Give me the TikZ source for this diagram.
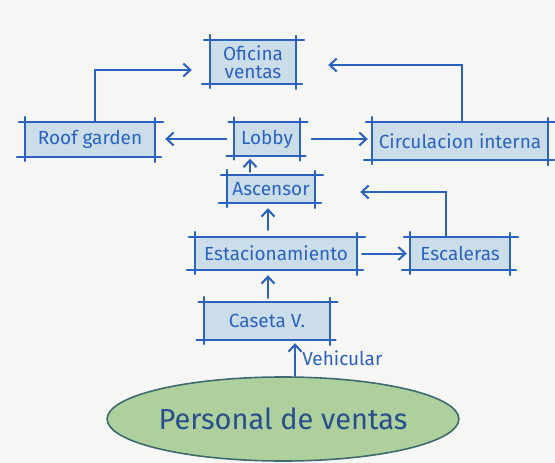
\documentclass[tikz,border=0pt]{standalone}
\usepackage{fontspec}
\setmainfont{Fira Sans}
\usetikzlibrary{arrows.meta,shapes.geometric}
\definecolor{paper}{HTML}{F6F6F5}
\definecolor{ink}{HTML}{2B62C0}
\definecolor{boxfill}{HTML}{CADDE8}
\definecolor{leaf}{HTML}{ADD09C}
\definecolor{leafline}{HTML}{3F6A6E}
\definecolor{leafink}{HTML}{2A4E8C}
\tikzset{
  inkline/.style={draw=ink, line width=2pt, line cap=round},
  arr/.style={inkline, -{Straight Barb[length=7pt,width=13pt,line width=2pt]}},
  sketchbox/.style={fill=boxfill, inner sep=0pt, text=ink, font=\fontsize{19}{21}\selectfont,
    append after command={
      ([xshift=-6pt]\tikzlastnode.north west) edge[inkline] ([xshift=8pt]\tikzlastnode.north east)
      ([xshift=-8pt]\tikzlastnode.south west) edge[inkline] ([xshift=6pt]\tikzlastnode.south east)
      ([yshift=5pt]\tikzlastnode.north west) edge[inkline] ([yshift=-4pt]\tikzlastnode.south west)
      ([yshift=4pt]\tikzlastnode.north east) edge[inkline] ([yshift=-5pt]\tikzlastnode.south east)
    }},
  goal/.style={ellipse, fill=leaf, draw=leafline, line width=1.6pt, text=leafink, inner sep=0pt,
    font=\fontsize{29}{31}\selectfont}
}
\begin{document}
\begin{tikzpicture}[x=1pt,y=-1pt]
  % sheet
  \fill[paper] (0,0) rectangle (555,463);
  \useasboundingbox (0,0) rectangle (555,463);

  % rooms
  \node[sketchbox, minimum width=86pt, minimum height=44pt, align=center] (ofi) at (253,62) {Oficina\\[-3pt]ventas};
  \node[sketchbox, minimum width=130pt, minimum height=35pt] (roof) at (90,139.5) {Roof garden};
  \node[sketchbox, minimum width=65pt, minimum height=33pt] (lobby) at (267,139) {Lobby};
  \node[sketchbox, minimum width=176pt, minimum height=38pt] (circ) at (460,141) {Circulacion interna};
  \node[sketchbox, minimum width=88pt, minimum height=28pt] (asc) at (271,189) {Ascensor};
  \node[sketchbox, minimum width=162pt, minimum height=33pt] (est) at (276,253.5) {Estacionamiento};
  \node[sketchbox, minimum width=100pt, minimum height=33pt] (esc) at (460,253.5) {Escaleras};
  \node[sketchbox, minimum width=125pt, minimum height=38pt] (cas) at (267,321) {Caseta V.};
  \node[goal, minimum width=330pt, minimum height=84pt] (pers) at (283,419) {Personal de ventas};

  % circulation
  \draw[arr] ([xshift=5pt]roof.north) |- ([xshift=-18pt,yshift=-8pt]ofi.west);
  \draw[arr] ([xshift=2pt]circ.north) |- ([xshift=32pt,yshift=-3pt]ofi.east);
  \draw[arr] ([xshift=-8pt]lobby.west) -- ([xshift=10pt]roof.east |- lobby.west);
  \draw[arr] ([xshift=12pt]lobby.east) -- ([xshift=-4pt]circ.west |- lobby.east);
  \draw[arr] ([xshift=-21pt,yshift=3pt]asc.north) -- ([xshift=-17pt,yshift=-3pt]lobby.south);
  \draw[arr] ([xshift=-8pt,yshift=7pt]est.north) -- ([xshift=-3pt,yshift=-5pt]asc.south);
  \draw[arr] ([xshift=5pt]est.east) -- ([xshift=-3pt]esc.west);
  \draw[arr] ([xshift=-14pt]esc.north) |- ([xshift=45pt,yshift=-3pt]asc.east);
  \draw[arr] ([xshift=1pt,yshift=4pt]cas.north) -- ([xshift=-8pt,yshift=-5pt]est.south);
  \draw[arr] ([xshift=12pt]pers.north) -- node[pos=0.55, right=3pt, text=ink, font=\fontsize{19}{21}\selectfont] (veh) {Vehicular} ([xshift=28pt,yshift=-3pt]cas.south);
\end{tikzpicture}
\end{document}
